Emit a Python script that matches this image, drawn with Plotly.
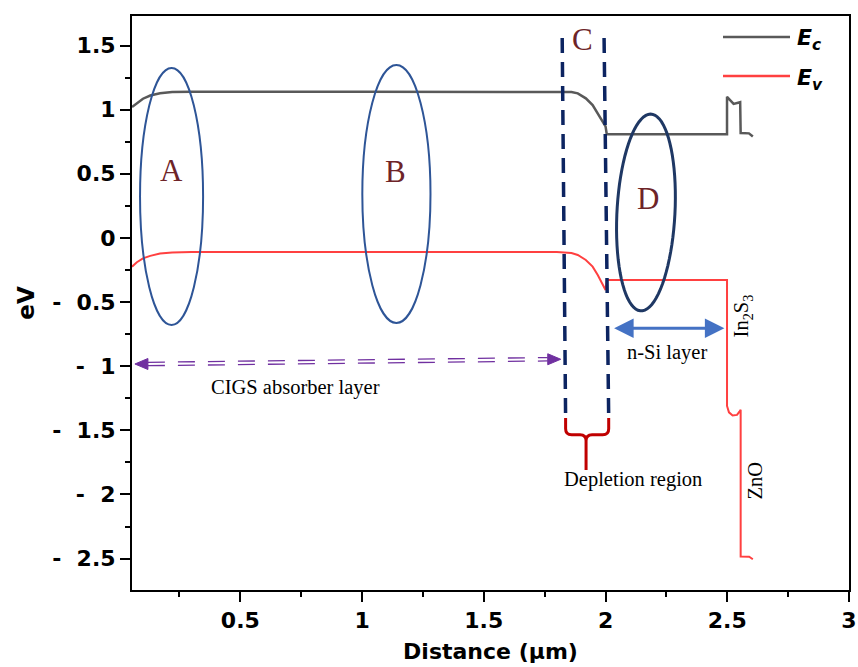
import numpy as np
import plotly.graph_objects as go

# ---------------- data ----------------
ec_x = [0.055, 0.075, 0.10, 0.13, 0.17, 0.22, 0.30, 1.00, 1.80, 1.86, 1.886, 1.919, 1.947, 1.968,
        1.993, 2.000, 2.005, 2.499, 2.499, 2.526, 2.553, 2.555, 2.589, 2.605]
ec_y = [1.02, 1.05, 1.085, 1.11, 1.128, 1.137, 1.14, 1.14, 1.14, 1.137, 1.127, 1.088, 1.036, 0.971,
        0.893, 0.87, 0.808, 0.808, 1.10, 1.045, 1.058, 0.818, 0.815, 0.79]

ev_x = [0.055, 0.075, 0.10, 0.13, 0.17, 0.22, 0.30, 1.00, 1.80, 1.86, 1.886, 1.919, 1.947, 1.968,
        1.993, 2.000, 2.005, 2.499, 2.499, 2.507, 2.522, 2.540, 2.550, 2.555, 2.555, 2.590, 2.605]
ev_y = [-0.224, -0.19, -0.16, -0.14, -0.122, -0.113, -0.11, -0.11, -0.11, -0.118, -0.133, -0.172,
        -0.224, -0.289, -0.38, -0.406, -0.328, -0.328, -1.31, -1.36, -1.385, -1.38, -1.355, -1.34,
        -2.484, -2.486, -2.505]

x_ticks = [0.5, 1, 1.5, 2, 2.5, 3]
x_ticktext = ["0.5", "1", "1.5", "2", "2.5", "3"]
y_ticks = [1.5, 1, 0.5, 0, -0.5, -1, -1.5, -2, -2.5]
y_ticktext = ["1.5", "1", "0.5", "0", "-\u00a0\u00a00.5", "-\u00a0\u00a01",
              "-\u00a0\u00a01.5", "-\u00a0\u00a02", "-\u00a0\u00a02.5"]

# ---------------- layout geometry ----------------
W, H = 858, 667
ML, MR, MT, MB = 132, 9, 16, 77
XR = [0.055, 3.0]
YR = [-2.745, 1.73]
PW, PH = W - ML - MR, H - MT - MB
sx = PW / (XR[1] - XR[0])   # px per data unit
sy = PH / (YR[1] - YR[0])

fig = go.Figure()
fig.add_trace(go.Scatter(x=ec_x, y=ec_y, mode="lines", name="Ec",
                         line=dict(color="#595959", width=2.5), showlegend=False))
fig.add_trace(go.Scatter(x=ev_x, y=ev_y, mode="lines", name="Ev",
                         line=dict(color="#ff4040", width=2), showlegend=False))

shapes = []
# ellipses A, B
for (x0, x1, y0, y1) in [(0.088, 0.347, -0.679, 1.325), (1.001, 1.281, -0.663, 1.348)]:
    shapes.append(dict(type="circle", xref="x", yref="y", x0=x0, x1=x1, y0=y0, y1=y1,
                       line=dict(color="#2e5597", width=2)))
# ellipse D (slightly tilted), built in screen space
cx, cy = 2.166, 0.198
a_px, b_px, tilt = 29, 98.5, np.deg2rad(3)
t = np.linspace(0, 2 * np.pi, 80)
ux = a_px * np.cos(t)
uy = b_px * np.sin(t)
rx = ux * np.cos(tilt) + uy * np.sin(tilt)
ry = -ux * np.sin(tilt) + uy * np.cos(tilt)
px_ = cx + rx / sx
py_ = cy + ry / sy
d_path = "M " + " L ".join(f"{a:.4f},{b:.4f}" for a, b in zip(px_, py_)) + " Z"
shapes.append(dict(type="path", xref="x", yref="y", path=d_path,
                   line=dict(color="#1f3864", width=3)))

# navy dashed depletion boundaries
for (x0, y0, x1, y1) in [(1.822, 1.558, 1.836, -1.405), (1.994, 1.558, 2.013, -1.405)]:
    shapes.append(dict(type="line", xref="x", yref="y", x0=x0, y0=y0, x1=x1, y1=y1,
                       line=dict(color="#0c2461", width=3.5, dash="15px,9px")))

# red curly bracket
bl, bm, br = 1.836, 1.920, 2.013
bt, bc, bs = -1.405, -1.535, -1.81
rxd, ryd = 6 / sx, 6 / sy
br_path = (f"M {bl},{bt} L {bl},{bc + ryd} Q {bl},{bc} {bl + rxd},{bc} L {bm - rxd},{bc} "
           f"Q {bm},{bc} {bm},{bc - ryd} L {bm},{bs} M {bm},{bc - ryd} Q {bm},{bc} {bm + rxd},{bc} "
           f"L {br - rxd},{bc} Q {br},{bc} {br},{bc + ryd} L {br},{bt}")
shapes.append(dict(type="path", xref="x", yref="y", path=br_path,
                   line=dict(color="#c00000", width=3)))

# purple double dashed arrow
pl = (0.067, -0.983)
pr = (1.816, -0.946)
head_len, head_hw = 13, 5.5
for off in (-1.7, 1.7):
    shapes.append(dict(type="line", xref="x", yref="y",
                       x0=pl[0] + head_len / sx, y0=pl[1] + off / sy,
                       x1=pr[0] - head_len / sx, y1=pr[1] + off / sy,
                       line=dict(color="#7030a0", width=1.3, dash="17px,13px")))
for (tip, sgn) in [(pl, 1), (pr, -1)]:
    bx = tip[0] + sgn * head_len / sx
    tri = (f"M {tip[0]},{tip[1]} L {bx},{tip[1] + head_hw / sy} "
           f"L {bx},{tip[1] - head_hw / sy} Z")
    shapes.append(dict(type="path", xref="x", yref="y", path=tri,
                       fillcolor="#7030a0", line=dict(color="#7030a0", width=1)))

# legend lines (paper coords)
def pxp(px):
    return (px - ML) / PW

def pyp(py):
    return (H - MB - py) / PH

shapes.append(dict(type="line", xref="paper", yref="paper", x0=pxp(723), x1=pxp(790),
                   y0=pyp(37), y1=pyp(37), line=dict(color="#595959", width=2.5)))
shapes.append(dict(type="line", xref="paper", yref="paper", x0=pxp(723), x1=pxp(790),
                   y0=pyp(76), y1=pyp(76), line=dict(color="#ff4040", width=2.5)))

annotations = []
serif = "Liberation Serif"
letter_color = "#6e2428"
for (txt, x, y) in [("A", 0.219, 0.529), ("B", 1.137, 0.514), ("C", 1.906, 1.545), ("D", 2.173, 0.311)]:
    annotations.append(dict(x=x, y=y, xref="x", yref="y", text=txt, showarrow=False,
                            font=dict(family=serif, size=31, color=letter_color)))
for (txt, x, y) in [("CIGS absorber layer", 0.725, -1.163), ("n-Si layer", 2.252, -0.897),
                    ("Depletion region", 2.113, -1.887)]:
    annotations.append(dict(x=x, y=y, xref="x", yref="y", text=txt, showarrow=False,
                            font=dict(family=serif, size=20.5, color="black")))
annotations.append(dict(x=2.562, y=-0.609, xref="x", yref="y", text="In<sub>2</sub>S<sub>3</sub>",
                        showarrow=False, textangle=-90, font=dict(family=serif, size=20.5, color="black")))
annotations.append(dict(x=2.612, y=-1.895, xref="x", yref="y", text="ZnO",
                        showarrow=False, textangle=-90, font=dict(family=serif, size=20.5, color="black")))
# blue double arrow
annotations.append(dict(x=2.488, y=-0.705, ax=2.029, ay=-0.705, xref="x", yref="y", axref="x", ayref="y",
                        text="", showarrow=True, arrowhead=2, arrowside="end+start", arrowsize=1.3,
                        arrowwidth=3, arrowcolor="#4472c4"))
# legend text
for (txt, py) in [("<b><i>E</i></b><sub><b><i>c</i></b></sub>", 40),
                  ("<b><i>E</i></b><sub><b><i>v</i></b></sub>", 79)]:
    annotations.append(dict(x=pxp(795), y=pyp(py), xref="paper", yref="paper", text=txt,
                            showarrow=False, xanchor="left", yanchor="middle",
                            font=dict(family="DejaVu Sans", size=22, color="black")))

axis_font = dict(family="DejaVu Sans", size=22, color="black", weight="bold")
fig.update_layout(
    width=W, height=H,
    margin=dict(l=ML, r=MR, t=MT, b=MB),
    paper_bgcolor="white", plot_bgcolor="white",
    shapes=shapes, annotations=annotations, showlegend=False,
    xaxis=dict(range=XR, tickvals=x_ticks, ticktext=x_ticktext, ticks="outside", ticklen=10,
               tickwidth=2, tickcolor="black", showline=True, linewidth=2, linecolor="black",
               mirror=True, showgrid=False, zeroline=False, tickfont=axis_font, automargin=False,
               minor=dict(tickvals=[0.25, 0.75, 1.25, 1.75, 2.25, 2.75], ticks="outside",
                          ticklen=5, tickwidth=2, tickcolor="black"),
               title=dict(text="Distance (μm)", standoff=11,
                          font=dict(family="DejaVu Sans", size=22, color="black", weight="bold"))),
    yaxis=dict(range=YR, tickvals=y_ticks, ticktext=y_ticktext, ticks="outside", ticklen=10,
               tickwidth=2, tickcolor="black", showline=True, linewidth=2, linecolor="black",
               mirror=True, showgrid=False, zeroline=False, tickfont=axis_font, automargin=False,
               minor=dict(tickvals=[1.25, 0.75, 0.25, -0.25, -0.75, -1.25, -1.75, -2.25],
                          ticks="outside", ticklen=5, tickwidth=2, tickcolor="black"),
               title=dict(text="eV", standoff=11,
                          font=dict(family="DejaVu Sans", size=23, color="black", weight="bold"))),
)

fig.write_html("out.html")
